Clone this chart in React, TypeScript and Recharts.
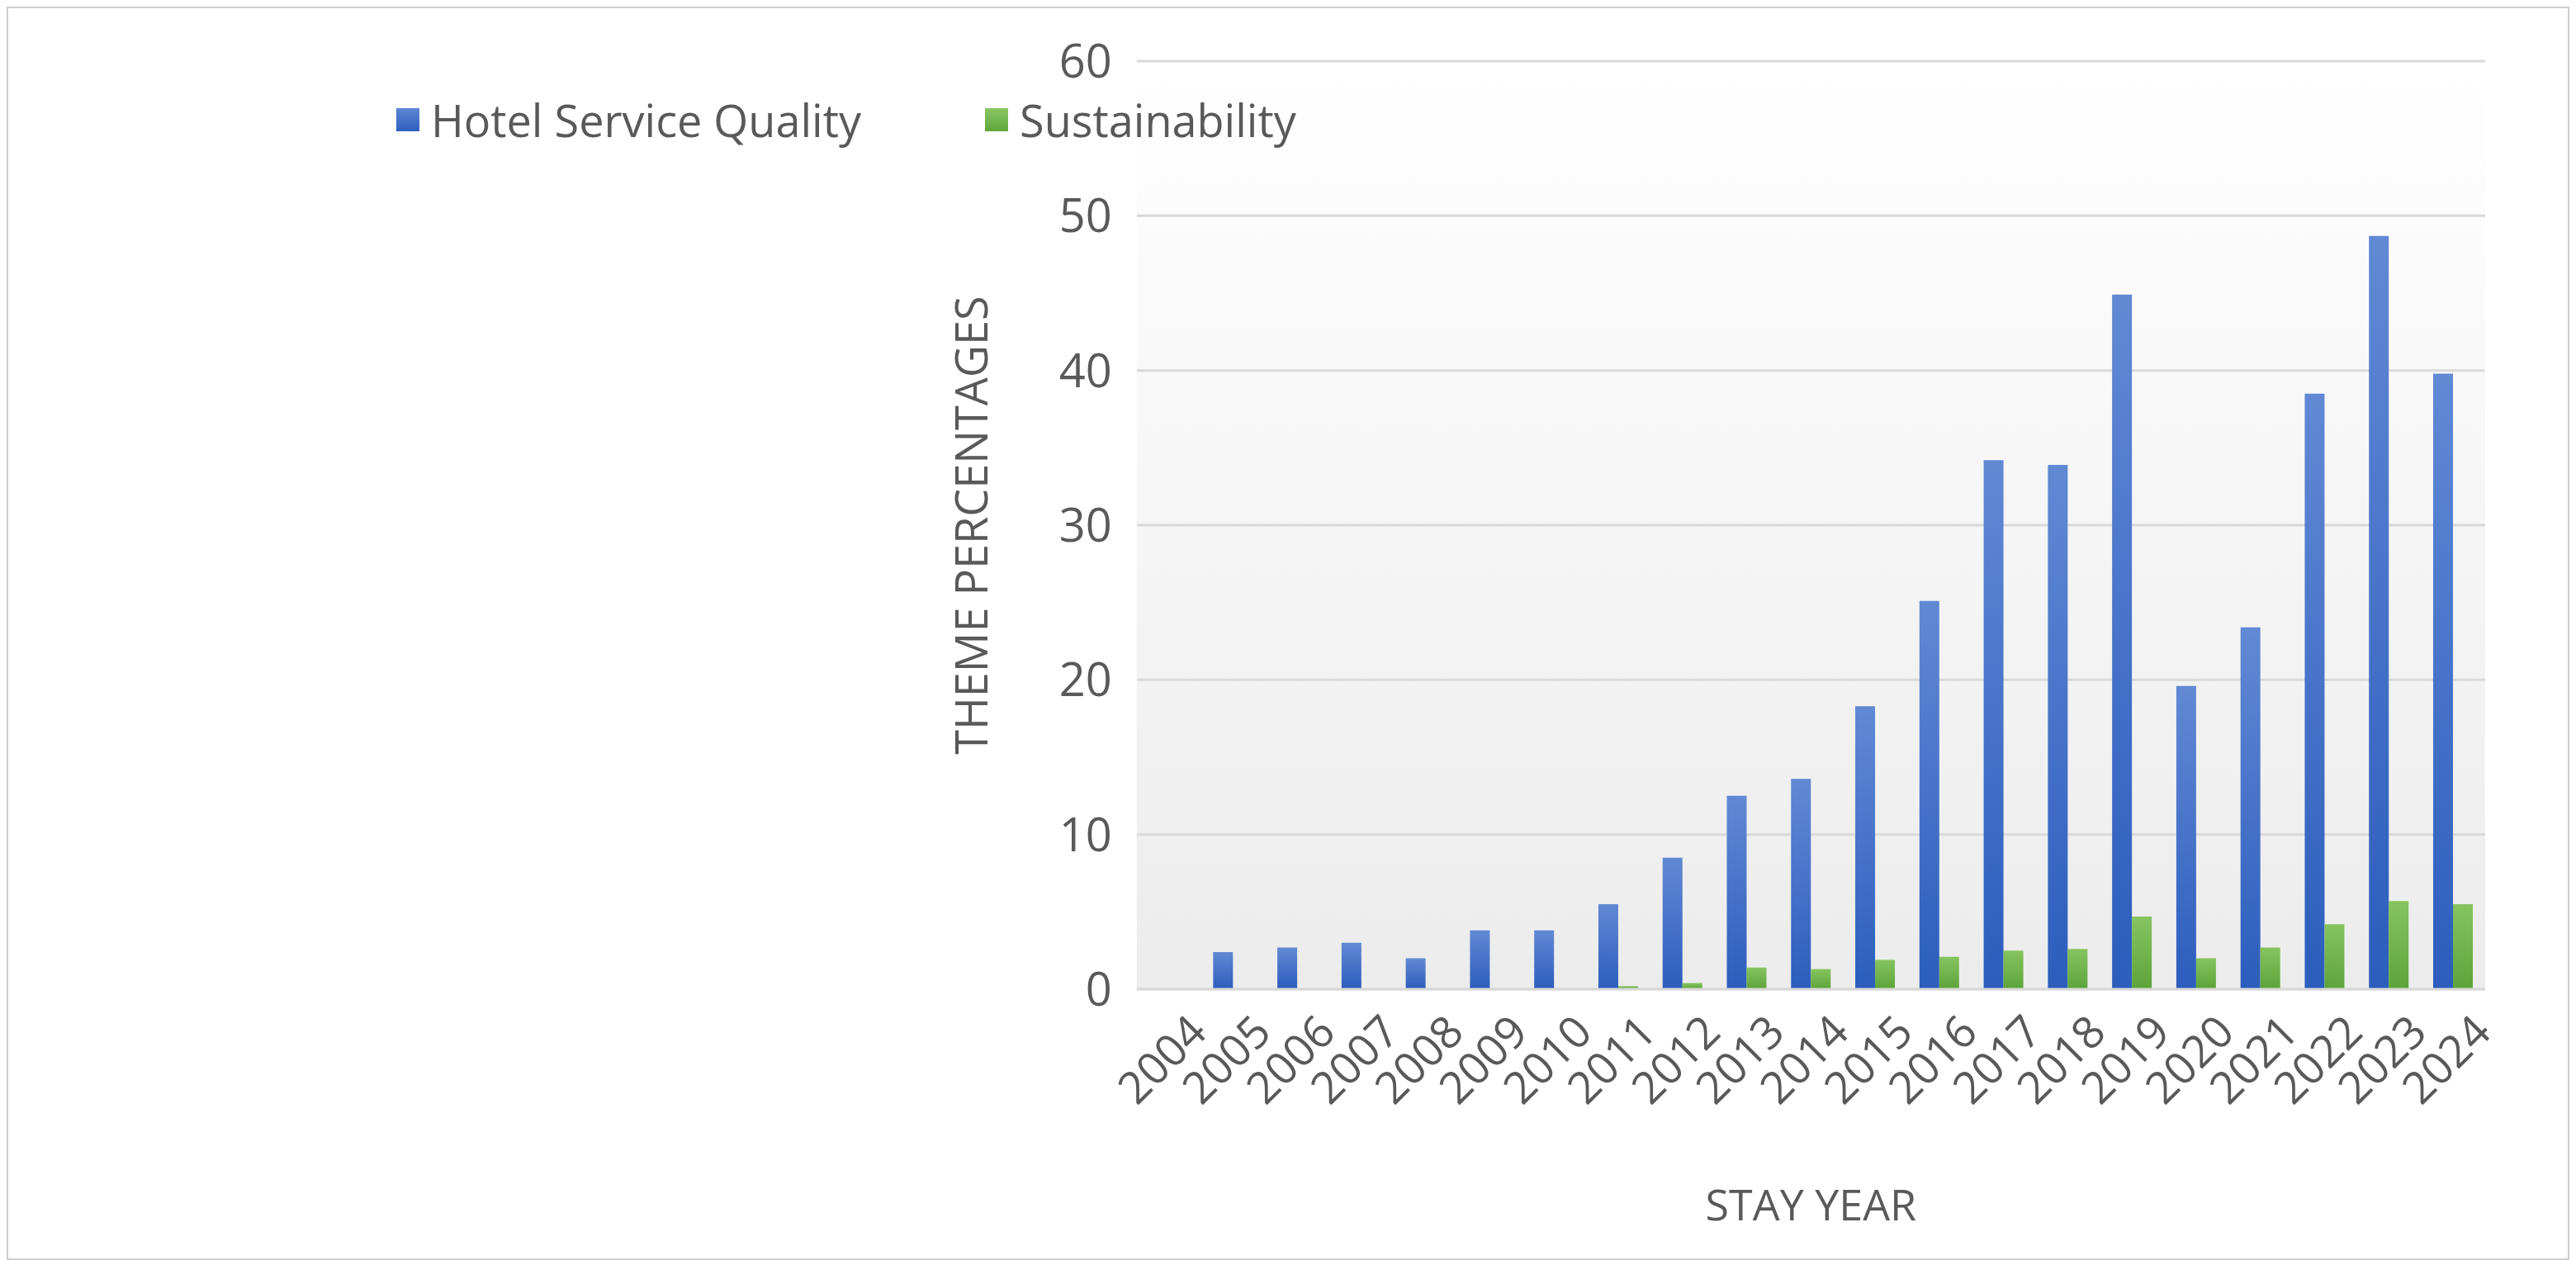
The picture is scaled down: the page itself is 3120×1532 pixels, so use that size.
import React from "react";
import { BarChart, Bar, XAxis, YAxis, CartesianGrid, Legend, Label } from "recharts";

const years = ["2004","2005","2006","2007","2008","2009","2010","2011","2012","2013","2014","2015","2016","2017","2018","2019","2020","2021","2022","2023","2024"];
const hotelServiceQuality = [0,2.4,2.7,3.0,2.0,3.8,3.8,5.5,8.5,12.5,13.6,18.3,25.1,34.2,33.9,44.9,19.6,23.4,38.5,48.7,39.8];
const sustainability = [0,0,0,0,0,0,0,0.2,0.4,1.4,1.3,1.9,2.1,2.5,2.6,4.7,2.0,2.7,4.2,5.7,5.5];
const yTicks = [0,10,20,30,40,50,60];

const data = years.map((y, i) => ({ year: y, hsq: hotelServiceQuality[i], sus: sustainability[i] }));
const FONT = "'Open Sans', 'Liberation Sans', sans-serif";

const XTick = (props: any) => {
  const { x, y, payload } = props;
  return (
    <text x={x + 16} y={y + 14} transform={`rotate(-45, ${x + 16}, ${y + 14})`} textAnchor="end"
      dominantBaseline="hanging" fontSize={54} fill="#595959" fontFamily={FONT}>{payload.value}</text>
  );
};

const LegendContent = () => (
  <div style={{ display: "flex", fontFamily: FONT, fontSize: 54, color: "#595959" }}>
    <div style={{ display: "flex", alignItems: "center", marginRight: 150 }}>
      <div style={{ width: 28, height: 28, background: "linear-gradient(#5b86d4,#2e5fbe)", marginRight: 14 }} />
      Hotel Service Quality
    </div>
    <div style={{ display: "flex", alignItems: "center" }}>
      <div style={{ width: 28, height: 28, background: "linear-gradient(#8ac764,#5ea63a)", marginRight: 14 }} />
      Sustainability
    </div>
  </div>
);

export default function App() {
  return (
    <div style={{ width: 3100, height: 1514, border: "2px solid #d0d0d0", background: "white" }}>
      <BarChart width={3100} height={1514} data={data} barGap={0} barCategoryGap="19%"
        margin={{ top: 64, right: 100, bottom: 36, left: 177 }}>
        <defs>
          <linearGradient id="gBlue" x1="0" y1="0" x2="0" y2="1">
            <stop offset="0%" stopColor="#6189d4" />
            <stop offset="100%" stopColor="#2c5dbd" />
          </linearGradient>
          <linearGradient id="gGreen" x1="0" y1="0" x2="0" y2="1">
            <stop offset="0%" stopColor="#86c45f" />
            <stop offset="100%" stopColor="#5da43a" />
          </linearGradient>
          <linearGradient id="gBg" x1="0" y1="0" x2="0" y2="1">
            <stop offset="0%" stopColor="#ffffff" />
            <stop offset="100%" stopColor="#ececec" />
          </linearGradient>
        </defs>
        <CartesianGrid vertical={false} stroke="#d9d9d9" strokeWidth={3} fill="url(#gBg)" />
        <XAxis dataKey="year" height={290} tick={<XTick />} tickLine={false} axisLine={{ stroke: "#d9d9d9", strokeWidth: 3 }} interval={0}>
          <Label value="STAY YEAR" position="insideBottom" offset={10} style={{ fontSize: 52, fill: "#595959", fontFamily: FONT }} />
        </XAxis>
        <YAxis domain={[0, 60]} ticks={yTicks} width={100} tickLine={false} axisLine={false}
          tick={{ fontSize: 56, fill: "#595959", fontFamily: FONT }} tickMargin={24}>
          <Label value="THEME PERCENTAGES" angle={-90} position="insideLeft" offset={-100}
            style={{ fontSize: 54, fill: "#595959", fontFamily: FONT, textAnchor: "middle" }} />
        </YAxis>
        <Legend verticalAlign="middle" align="left" content={<LegendContent />}
          wrapperStyle={{ top: 98, left: 470, width: "auto" }} />
        <Bar dataKey="hsq" name="Hotel Service Quality" fill="url(#gBlue)" isAnimationActive={false} />
        <Bar dataKey="sus" name="Sustainability" fill="url(#gGreen)" isAnimationActive={false} />
      </BarChart>
    </div>
  );
}
